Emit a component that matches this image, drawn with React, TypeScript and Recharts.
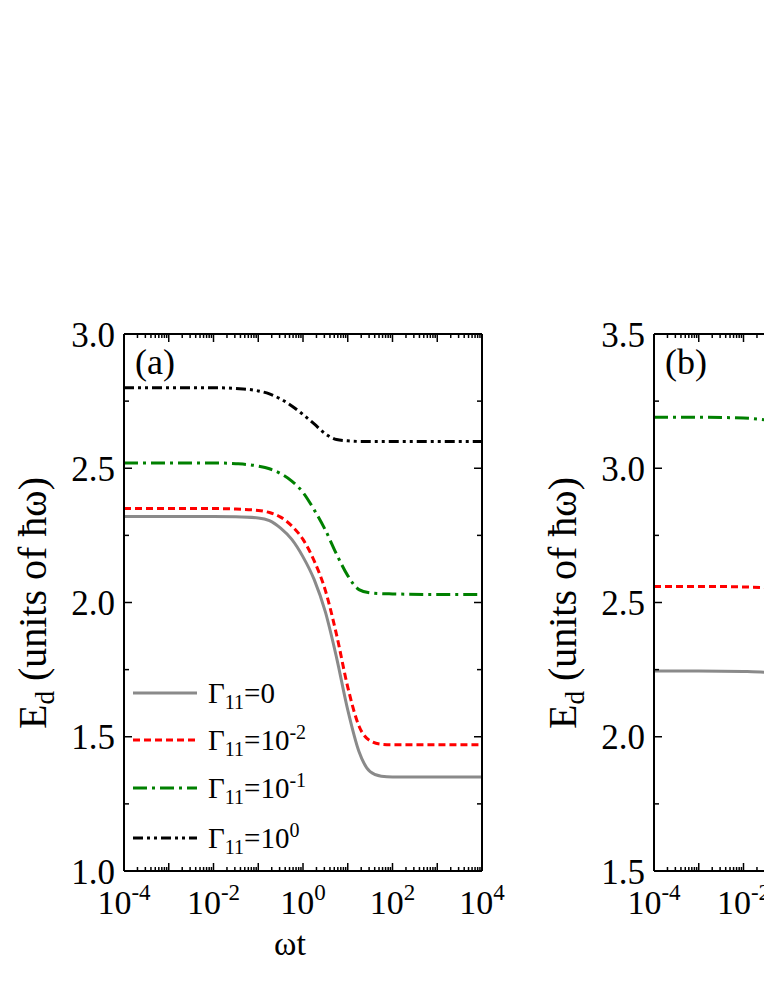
import React from 'react';
import { LineChart, Line, XAxis, YAxis } from 'recharts';

// ---------- data ----------
const timeA = [1e-4, 1e-3, 1e-2, 0.0316, 0.1, 0.178, 0.316, 0.562, 1, 1.78, 3.16, 5.62, 10, 17.8, 31.6, 56.2, 100, 1000, 10000];
const gamma0A = [2.32, 2.32, 2.32, 2.319, 2.315, 2.305, 2.277, 2.235, 2.17, 2.085, 1.965, 1.795, 1.6, 1.445, 1.37, 1.353, 1.35, 1.35, 1.35];
const gammaM2A = [2.35, 2.35, 2.35, 2.348, 2.343, 2.335, 2.318, 2.285, 2.235, 2.155, 2.045, 1.88, 1.685, 1.54, 1.485, 1.472, 1.47, 1.47, 1.47];
const gammaM1A = [2.52, 2.52, 2.52, 2.517, 2.508, 2.498, 2.48, 2.452, 2.41, 2.345, 2.27, 2.18, 2.1, 2.048, 2.036, 2.033, 2.032, 2.03, 2.03];
const gammaP0A = [2.8, 2.8, 2.8, 2.797, 2.788, 2.777, 2.758, 2.732, 2.7, 2.665, 2.628, 2.607, 2.602, 2.6, 2.6, 2.6, 2.6, 2.6, 2.6];

const timeB = [1e-4, 1e-3, 1e-2, 0.0316, 0.1];
const gamma0B = [2.245, 2.245, 2.243, 2.24, 2.23];
const gammaM2B = [2.56, 2.56, 2.558, 2.555, 2.545];
const gammaM1B = [3.19, 3.19, 3.187, 3.18, 3.165];

const decadeExps = [-4, -3, -2, -1, 0, 1, 2, 3, 4];
const labeledExps = [-4, -2, 0, 2, 4];
const minorMult = [1, 2, 3, 4, 5, 6, 7, 8, 9];
const yTicksA = [1.0, 1.25, 1.5, 1.75, 2.0, 2.25, 2.5, 2.75, 3.0];
const yTicksB = [1.5, 1.75, 2.0, 2.25, 2.5, 2.75, 3.0, 3.25, 3.5];

const legendLabels = [
  { name: 'Γ', sub: '11', eq: '=0', sup: '' },
  { name: 'Γ', sub: '11', eq: '=10', sup: '-2' },
  { name: 'Γ', sub: '11', eq: '=10', sup: '-1' },
  { name: 'Γ', sub: '11', eq: '=10', sup: '0' },
];

// ---------- style ----------
const FONT = '"Liberation Serif", "Times New Roman", serif';
const styles = [
  { key: 'g0', color: '#8a8a8a', dash: undefined as string | undefined },
  { key: 'gm2', color: '#ff0000', dash: '7 4' },
  { key: 'gm1', color: '#008000', dash: '14 5 3 5' },
  { key: 'gp0', color: '#000000', dash: '10 4 3 4 3 4' },
];

const rowsA = timeA.map((t, i) => ({ t, g0: gamma0A[i], gm2: gammaM2A[i], gm1: gammaM1A[i], gp0: gammaP0A[i] }));
const rowsB = timeB.map((t, i) => ({ t, g0: gamma0B[i], gm2: gammaM2B[i], gm1: gammaM1B[i] }));

const xTicks: number[] = [];
decadeExps.forEach((e) => {
  minorMult.forEach((m) => {
    const v = m * Math.pow(10, e);
    if (v <= 1e4 * 1.0001) xTicks.push(v);
  });
});

const expOf = (v: number) => {
  const lg = Math.log10(v);
  const r = Math.round(lg);
  return Math.abs(lg - r) < 1e-6 ? r : null;
};

const txt = { fontFamily: FONT };

const XTick = (props: any) => {
  const { x, y, payload, top } = props;
  const e = expOf(payload.value);
  const len = e !== null ? 8 : 4;
  const dir = top ? 1 : -1;
  return (
    <g>
      <line x1={x} x2={x} y1={y} y2={y + dir * len} stroke="#000" strokeWidth={1.5} />
      {!top && e !== null && labeledExps.includes(e) && (
        <text x={x} y={y + 43} textAnchor="middle" style={txt} fontSize={34} fill="#000">
          10
          <tspan dy={-14} fontSize={23}>{String(e)}</tspan>
        </text>
      )}
    </g>
  );
};

const YTick = (props: any) => {
  const { x, y, payload, right } = props;
  const v = payload.value;
  const major = Math.abs(v * 2 - Math.round(v * 2)) < 1e-6;
  const len = major ? 8 : 5;
  const dir = right ? -1 : 1;
  return (
    <g>
      <line x1={x} x2={x + dir * len} y1={y} y2={y} stroke="#000" strokeWidth={1.5} />
      {!right && major && (
        <text x={x - 9} y={y} dy="0.36em" textAnchor="end" style={txt} fontSize={35} fill="#000">
          {v.toFixed(1)}
        </text>
      )}
    </g>
  );
};

const MARGIN = { top: 333, left: 123, right: 57, bottom: 117 };
const CW = 540;
const CH = 989;

function Panel({ data, yDomain, yTicks, keys }: { data: any[]; yDomain: [number, number]; yTicks: number[]; keys: string[] }) {
  return (
    <LineChart width={CW} height={CH} data={data} margin={MARGIN}>
      <XAxis
        xAxisId="b"
        dataKey="t"
        type="number"
        scale="log"
        domain={[1e-4, 1e4]}
        allowDataOverflow
        ticks={xTicks}
        interval={0}
        height={1}
        tickSize={0}
        tickMargin={0}
        tickLine={false}
        axisLine={{ stroke: '#000', strokeWidth: 2 }}
        tick={(p: any) => <XTick {...p} />}
      />
      <XAxis
        xAxisId="t"
        orientation="top"
        dataKey="t"
        type="number"
        scale="log"
        domain={[1e-4, 1e4]}
        allowDataOverflow
        ticks={xTicks}
        interval={0}
        height={1}
        tickSize={0}
        tickMargin={0}
        tickLine={false}
        axisLine={{ stroke: '#000', strokeWidth: 2 }}
        tick={(p: any) => <XTick {...p} top />}
      />
      <YAxis
        yAxisId="l"
        type="number"
        domain={yDomain}
        allowDataOverflow
        ticks={yTicks}
        interval={0}
        width={1}
        tickSize={0}
        tickMargin={0}
        tickLine={false}
        axisLine={{ stroke: '#000', strokeWidth: 2 }}
        tick={(p: any) => <YTick {...p} />}
      />
      <YAxis
        yAxisId="r"
        orientation="right"
        type="number"
        domain={yDomain}
        allowDataOverflow
        ticks={yTicks}
        interval={0}
        width={1}
        tickSize={0}
        tickMargin={0}
        tickLine={false}
        axisLine={{ stroke: '#000', strokeWidth: 2 }}
        tick={(p: any) => <YTick {...p} right />}
      />
      {styles
        .filter((s) => keys.includes(s.key))
        .map((s) => (
          <Line
            key={s.key}
            xAxisId="b"
            yAxisId="l"
            dataKey={s.key}
            type="monotone"
            stroke={s.color}
            strokeWidth={3}
            strokeDasharray={s.dash}
            dot={false}
            activeDot={false}
            isAnimationActive={false}
          />
        ))}
    </LineChart>
  );
}

function YLabel({ x, y }: { x: number; y: number }) {
  return (
    <text x={x} y={y} transform={`rotate(-90 ${x} ${y})`} textAnchor="middle" style={txt} fontSize={40} fill="#000">
      E
      <tspan fontSize={27} dy={8}>d</tspan>
      <tspan dy={-8}> (units of ħω)</tspan>
    </text>
  );
}

export default function App() {
  const legendY = [693, 740, 788, 838];
  return (
    <div style={{ position: 'absolute', left: 0, top: 0, width: 764, height: 989, overflow: 'hidden', background: '#fff' }}>
      <div style={{ position: 'absolute', left: 0, top: 0 }}>
        <Panel data={rowsA} yDomain={[1, 3]} yTicks={yTicksA} keys={['g0', 'gm2', 'gm1', 'gp0']} />
      </div>
      <div style={{ position: 'absolute', left: 530, top: 0 }}>
        <Panel data={rowsB} yDomain={[1.5, 3.5]} yTicks={yTicksB} keys={['g0', 'gm2', 'gm1']} />
      </div>
      <svg width={764} height={989} style={{ position: 'absolute', left: 0, top: 0, pointerEvents: 'none' }}>
        <text x={135} y={374} style={txt} fontSize={36} fill="#000">(a)</text>
        <text x={665} y={374} style={txt} fontSize={36} fill="#000">(b)</text>
        <text x={290} y={955} textAnchor="middle" style={txt} fontSize={34} fill="#000">ωt</text>
        <YLabel x={46} y={603} />
        <YLabel x={576} y={603} />
        {legendLabels.map((l, i) => (
          <g key={i}>
            <line x1={133} x2={197} y1={legendY[i]} y2={legendY[i]} stroke={styles[i].color} strokeWidth={3} strokeDasharray={styles[i].dash} />
            <text x={208} y={legendY[i] + 10} style={txt} fontSize={29} fill="#000">
              {l.name}
              <tspan fontSize={20} dy={6}>{l.sub}</tspan>
              <tspan dy={-6}>{l.eq}</tspan>
              {l.sup && <tspan fontSize={20} dy={-11}>{l.sup}</tspan>}
            </text>
          </g>
        ))}
      </svg>
    </div>
  );
}
